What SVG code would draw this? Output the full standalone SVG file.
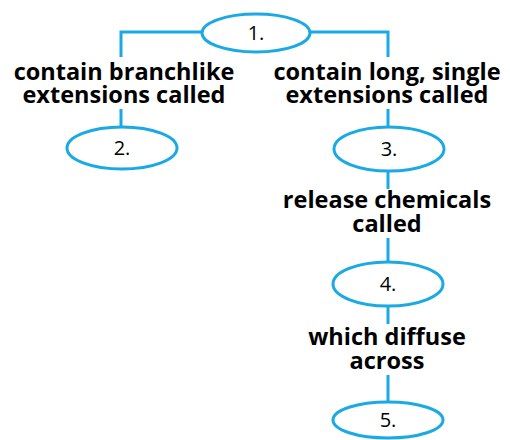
<svg xmlns="http://www.w3.org/2000/svg" width="510" height="440" viewBox="0 0 510 440">
<style>
.n{fill:#fff;stroke:#1aa9e3;stroke-width:3}
.c{fill:none;stroke:#1aa9e3;stroke-width:3}
.l{font-family:"Open Sans","Liberation Sans",sans-serif;font-weight:bold;font-size:23.5px;fill:#000;text-anchor:middle}
.t{font-family:"Open Sans","Liberation Sans",sans-serif;font-size:20px;fill:#000;text-anchor:middle}
</style>
<rect width="510" height="440" fill="#fff"/>
<g id="connectors">
<polyline class="c" points="121,57 121,32 388,32 388,57"/>
<line class="c" x1="121" y1="109" x2="121" y2="127"/>
<line class="c" x1="388" y1="109" x2="388" y2="127"/>
<line class="c" x1="388" y1="171" x2="388" y2="189"/>
<line class="c" x1="388" y1="238" x2="388" y2="262"/>
<line class="c" x1="388" y1="306" x2="388" y2="324"/>
<line class="c" x1="388" y1="375" x2="388" y2="402"/>
</g>
<g id="labels">
<text class="l" x="124" y="80">contain branchlike</text>
<text class="l" x="124" y="103">extensions called</text>
<text class="l" x="387" y="80">contain long, single</text>
<text class="l" x="387" y="103">extensions called</text>
<text class="l" x="387" y="208">release chemicals</text>
<text class="l" x="387" y="232">called</text>
<text class="l" x="387" y="345">which diffuse</text>
<text class="l" x="387" y="369">across</text>
</g>
<g id="node1"><ellipse class="n" cx="256" cy="33" rx="54" ry="19"/><text class="t" x="256" y="40">1.</text></g>
<g id="node2"><ellipse class="n" cx="122" cy="148" rx="55" ry="21"/><text class="t" x="122" y="155">2.</text></g>
<g id="node3"><ellipse class="n" cx="389" cy="149" rx="55" ry="22"/><text class="t" x="389" y="156">3.</text></g>
<g id="node4"><ellipse class="n" cx="388" cy="284" rx="55" ry="22"/><text class="t" x="388" y="291">4.</text></g>
<g id="node5"><ellipse class="n" cx="388" cy="420" rx="55" ry="18"/><text class="t" x="388" y="427">5.</text></g>
</svg>
